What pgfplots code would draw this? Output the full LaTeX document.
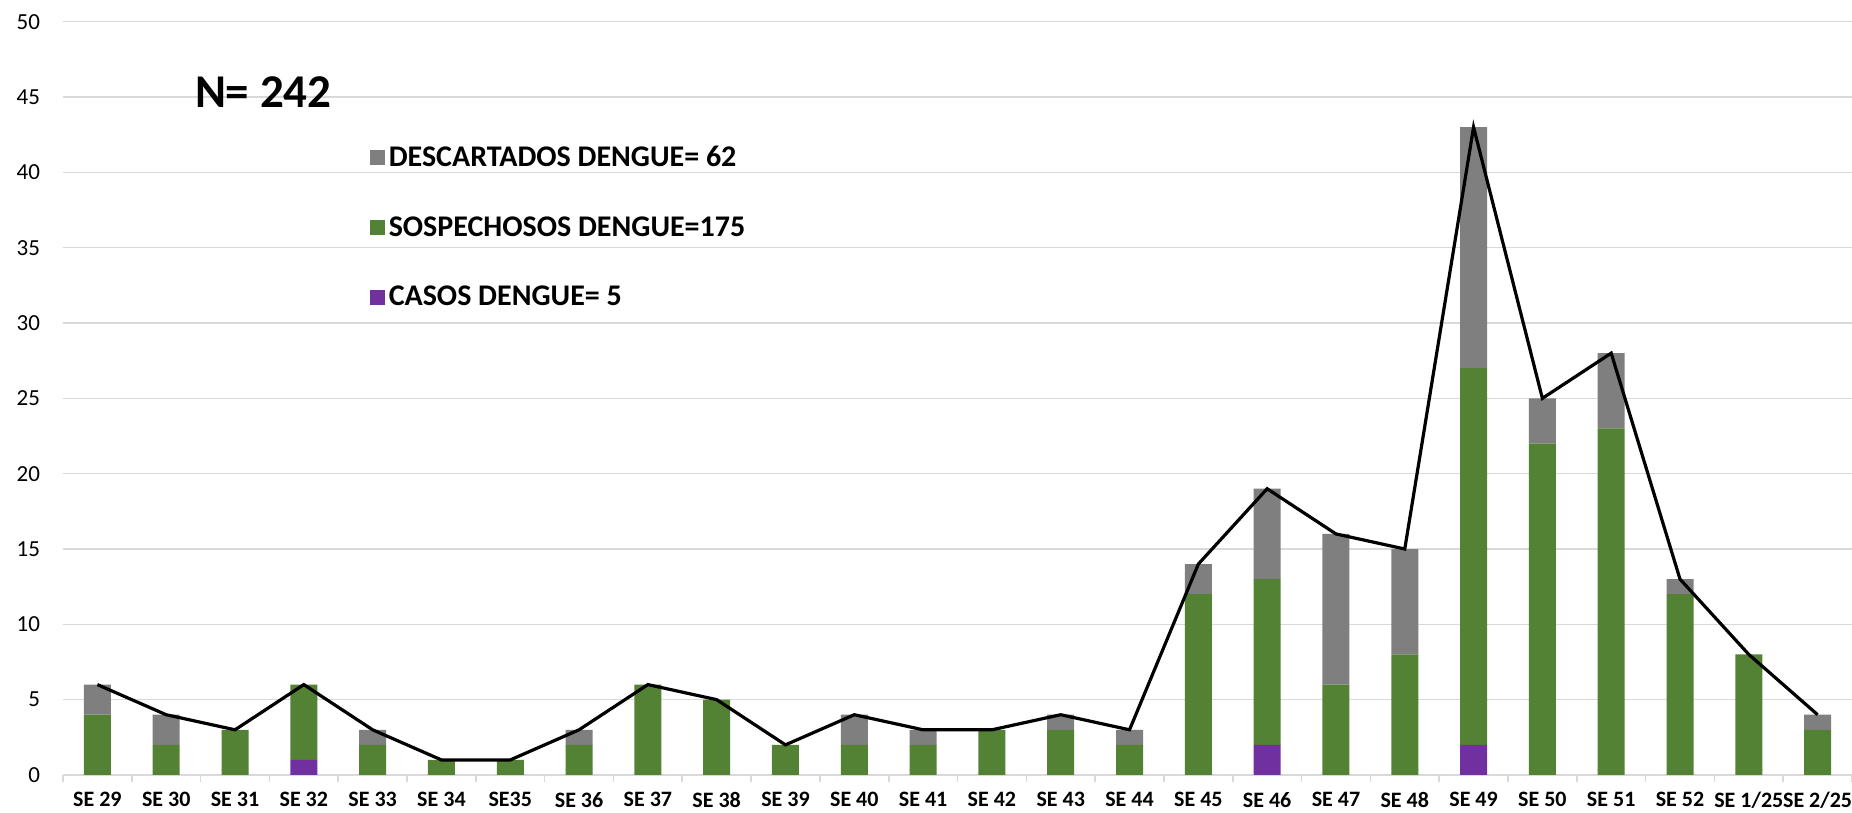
\documentclass[border=0pt]{standalone}
\usepackage{fontspec}
\setmainfont{Carlito}
\usepackage{pgfplots}
\pgfplotsset{compat=1.18}
\usepackage{pgfplotstable}
\definecolor{cgreen}{HTML}{548235}
\definecolor{cgray}{HTML}{7F7F7F}
\definecolor{cpurple}{HTML}{7030A0}
\definecolor{cgrid}{HTML}{D9D9D9}
\pgfplotstableread{
x casos sosp desc total
0 0 4 2 6
1 0 2 2 4
2 0 3 0 3
3 1 5 0 6
4 0 2 1 3
5 0 1 0 1
6 0 1 0 1
7 0 2 1 3
8 0 6 0 6
9 0 5 0 5
10 0 2 0 2
11 0 2 2 4
12 0 2 1 3
13 0 3 0 3
14 0 3 1 4
15 0 2 1 3
16 0 12 2 14
17 2 11 6 19
18 0 6 10 16
19 0 8 7 15
20 2 25 16 43
21 0 22 3 25
22 0 23 5 28
23 0 12 1 13
24 0 8 0 8
25 0 3 1 4
}\data
\pgfplotsset{
  base/.style={scale only axis, width=894.5pt, height=376.65pt,
    xmin=-0.5, xmax=25.5, ymin=0, ymax=50},
  sqlegend/.style={legend image code/.code={\fill[##1] (0pt,-3.75pt) rectangle (7.5pt,3.75pt);}}
}
\begin{document}
\begin{tikzpicture}
\begin{axis}[base, ybar stacked, bar width=13.5pt,
  axis x line*=bottom, axis y line*=left,
  x axis line style={draw=cgrid, line width=0.8pt},
  y axis line style={draw=none},
  ytick={0,5,...,50}, ymajorgrids, grid style={cgrid, line width=0.8pt},
  major tick length=0pt,
  /pgf/number format/assume math mode=true,
  yticklabel style={font=\fontsize{11.5}{13}\selectfont, xshift=-8pt},
  xtick={0,...,25},
  xticklabels={SE 29,SE 30,SE 31,SE 32,SE 33,SE 34,SE35,SE 36,SE 37,SE 38,SE 39,SE 40,SE 41,SE 42,SE 43,SE 44,SE 45,SE 46,SE 47,SE 48,SE 49,SE 50,SE 51,SE 52,SE 1/25,SE 2/25},
  xticklabel style={font=\bfseries\fontsize{11}{13}\selectfont, yshift=-5pt},
  extra x ticks={-0.5,0.5,...,25.5}, extra x tick labels={},
  extra x tick style={major tick length=3.5pt, tick align=outside, tick style={draw=cgrid, line width=0.8pt}, xmajorgrids=false},
  legend reversed,
  legend cell align=left,
  legend style={at={(axis cs:3.865,42.3)}, anchor=north west, draw=none, fill=none,
    font=\bfseries\fontsize{15}{17}\selectfont, row sep=19.5pt,
    /tikz/every even column/.append style={column sep=3.5pt}},
]
\addplot[fill=cpurple, draw=none, sqlegend] table[x=x, y=casos]{\data};
\addlegendentry{CASOS DENGUE= 5}
\addplot[fill=cgreen, draw=none, sqlegend] table[x=x, y=sosp]{\data};
\addlegendentry{SOSPECHOSOS DENGUE=175}
\addplot[fill=cgray, draw=none, sqlegend] table[x=x, y=desc]{\data};
\addlegendentry{DESCARTADOS DENGUE= 62}
\node[font=\bfseries\fontsize{23.5}{28}\selectfont] at (axis cs:2.41,45.3) {N= 242};
\end{axis}
\begin{axis}[base, axis lines=none, ticks=none]
\addplot[black, line width=1.6pt, mark=none] table[x=x, y=total]{\data};
\coordinate (bl) at (rel axis cs:0,0);
\coordinate (tr) at (rel axis cs:1,1);
\end{axis}
\pgfresetboundingbox
\path ([xshift=-31.5pt,yshift=-19pt]bl) rectangle ([yshift=10.85pt]tr);
\end{tikzpicture}
\end{document}
